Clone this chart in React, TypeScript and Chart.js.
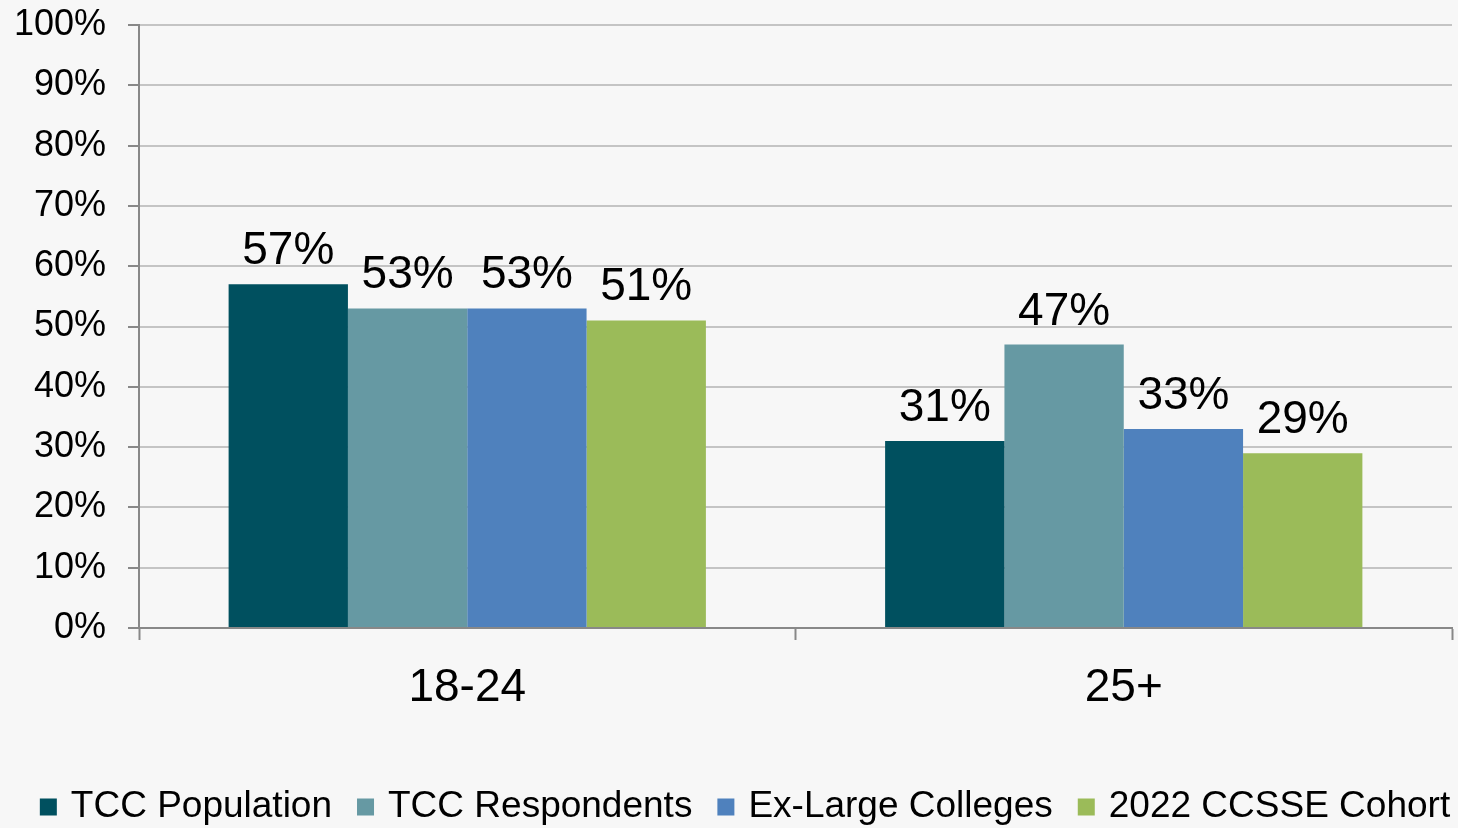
import React, { useEffect, useRef } from "react";
import { Chart, registerables } from "chart.js";

Chart.register(...registerables);

const categories = ["18-24", "25+"];
const seriesLabels = ["TCC Population", "TCC Respondents", "Ex-Large Colleges", "2022 CCSSE Cohort"];
const tccPopulation = [57, 31];
const tccRespondents = [53, 47];
const exLargeColleges = [53, 33];
const ccsseCohort = [51, 29];
const seriesColors = ["#00505f", "#6699a3", "#4f81bd", "#9bbb59"];
const yTicks = [0, 10, 20, 30, 40, 50, 60, 70, 80, 90, 100];

const FONT = "'Liberation Sans', Arial, sans-serif";

const bgPlugin = {
  id: "bg",
  beforeDraw(chart: any) {
    const ctx = chart.ctx;
    ctx.save();
    ctx.fillStyle = "#f7f7f7";
    ctx.fillRect(0, 0, chart.width, chart.height);
    ctx.restore();
  },
};

const labelPlugin = {
  id: "valueLabels",
  afterDatasetsDraw(chart: any) {
    const ctx = chart.ctx;
    ctx.save();
    ctx.font = `46px ${FONT}`;
    ctx.fillStyle = "#000";
    ctx.textAlign = "center";
    ctx.textBaseline = "alphabetic";
    chart.data.datasets.forEach((ds: any, i: number) => {
      const meta = chart.getDatasetMeta(i);
      meta.data.forEach((el: any, j: number) => {
        ctx.fillText(ds.data[j] + "%", el.x, el.y - 20);
      });
    });
    ctx.restore();
  },
};

const legendPlugin = {
  id: "customLegend",
  afterDraw(chart: any) {
    const ctx = chart.ctx;
    ctx.save();
    ctx.font = `37px ${FONT}`;
    ctx.textBaseline = "middle";
    ctx.textAlign = "left";
    const box = 17;
    const boxGap = 14;
    const itemGap = 25;
    const items = chart.data.datasets.map((ds: any) => ({
      label: ds.label,
      color: ds.backgroundColor,
      w: ctx.measureText(ds.label).width,
    }));
    const total =
      items.reduce((s: number, it: any) => s + box + boxGap + it.w, 0) + itemGap * (items.length - 1);
    let x = 745 - total / 2;
    const y = 807;
    items.forEach((it: any) => {
      ctx.fillStyle = it.color;
      ctx.fillRect(x, y - box / 2, box, box);
      x += box + boxGap;
      ctx.fillStyle = "#000";
      ctx.fillText(it.label, x, y);
      x += it.w + itemGap;
    });
    ctx.restore();
  },
};

export default function App() {
  const ref = useRef<HTMLCanvasElement>(null);
  useEffect(() => {
    const seriesData = [tccPopulation, tccRespondents, exLargeColleges, ccsseCohort];
    const chart = new Chart(ref.current!, {
      type: "bar",
      data: {
        labels: categories,
        datasets: seriesLabels.map((l, i) => ({
          label: l,
          data: seriesData[i],
          backgroundColor: seriesColors[i],
          borderWidth: 0,
          categoryPercentage: 0.727,
          barPercentage: 1,
        })),
      },
      options: {
        responsive: false,
        animation: false,
        layout: { padding: { left: 0, right: 6, top: 0, bottom: 80 } },
        plugins: {
          tooltip: { enabled: false },
          legend: { display: false },
        },
        scales: {
          x: {
            grid: { offset: true, drawOnChartArea: false, tickLength: 12, tickColor: "#888", tickWidth: 2 },
            border: { color: "#888", width: 2 },
            ticks: { color: "#000", font: { family: FONT, size: 46 }, padding: 21 },
            afterFit(scale: any) {
              scale.height = 120;
              scale.paddingLeft = 0;
              scale.paddingRight = 0;
            },
          },
          y: {
            min: 0,
            max: 100,
            afterBuildTicks(scale: any) {
              scale.ticks = yTicks.map((v) => ({ value: v }));
            },
            grid: { color: "#c4c4c4", lineWidth: 2, tickLength: 11, tickColor: "#888", tickWidth: 2 },
            border: { color: "#888", width: 2 },
            ticks: {
              color: "#000",
              font: { family: FONT, size: 36 },
              padding: 22,
              callback: (v: any) => v + "%",
            },
            afterFit(scale: any) {
              scale.width = 139;
              scale.paddingTop = 25;
              scale.paddingBottom = 0;
            },
          },
        },
      },
      plugins: [bgPlugin, labelPlugin, legendPlugin],
    });
    return () => chart.destroy();
  }, []);
  return (
    <div style={{ position: "absolute", left: 0, top: 0, width: 1458, height: 828 }}>
      <canvas ref={ref} width={1458} height={828} style={{ display: "block" }} />
    </div>
  );
}
